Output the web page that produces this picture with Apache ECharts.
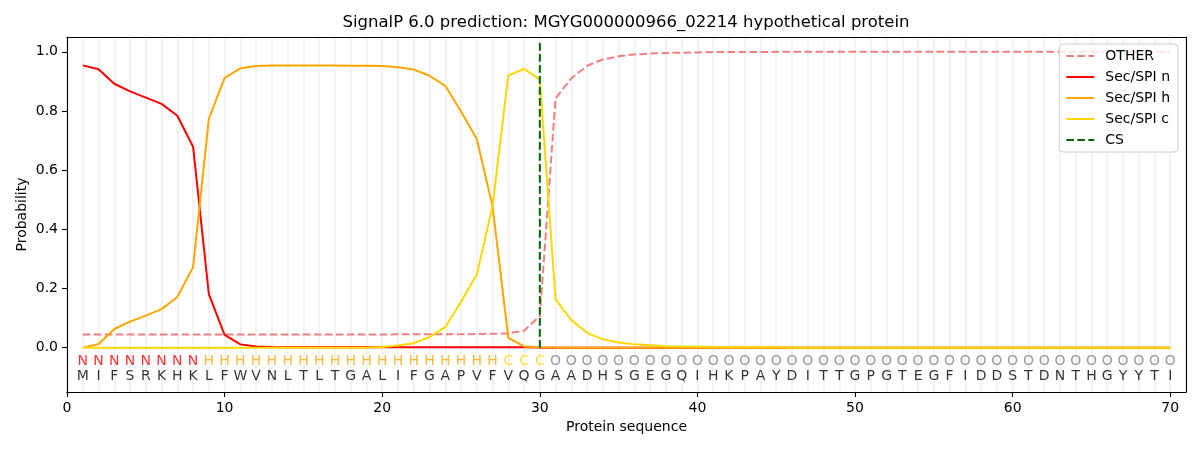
<!DOCTYPE html>
<html><head><meta charset="utf-8">
<script src="https://cdn.jsdelivr.net/npm/echarts@6/dist/echarts.min.js"></script>
<style>html,body{margin:0;padding:0;background:#fff}#c{width:1200px;height:450px}</style>
</head><body><div id="c"></div>
<script>
const titleText = "SignalP 6.0 prediction: MGYG000000966_02214 hypothetical protein";
const sequence = "MIFSRKHKLFWVNLTLTGALIFGAPVFVQGAADHSGEGQIHKPAYDITTGPGTEGFIDDSTDNTHGYYTI".split("");
const regions = ("NNNNNNNN" + "HHHHHHHHHHHHHHHHHHH" + "CCC" + "OOOOOOOOOOOOOOOOOOOOOOOOOOOOOOOOOOOOOOOO").split("");
const other = [0.044,0.044,0.044,0.044,0.044,0.044,0.044,0.044,0.044,0.044,
  0.044,0.044,0.044,0.044,0.044,0.044,0.044,0.044,0.044,0.044,
  0.045,0.045,0.045,0.045,0.045,0.046,0.047,0.048,0.057,0.107,
  0.843,0.910,0.953,0.974,0.985,0.991,0.994,0.996,0.997,0.998,
  0.999,0.999,0.999,0.999,1.0,1.0,1.0,1.0,1.0,1.0,
  1.0,1.0,1.0,1.0,1.0,1.0,1.0,1.0,1.0,1.0,
  1.0,1.0,1.0,1.0,1.0,1.0,1.0,1.0,1.0,1.0];
const secN = [0.954,0.941,0.892,0.866,0.845,0.824,0.784,0.679,0.181,0.043,
  0.011,0.004,0.002,0.001,0.001,0.001,0.001,0.001,0.001,0.001,
  0.001,0.001,0.001,0.001,0.001,0.001,0.001,0.001,0.001,0,
  0,0,0,0,0,0,0,0,0,0, 0,0,0,0,0,0,0,0,0,0,
  0,0,0,0,0,0,0,0,0,0, 0,0,0,0,0,0,0,0,0,0];
const secH = [0,0.012,0.063,0.088,0.108,0.130,0.171,0.272,0.773,0.912,
  0.944,0.952,0.954,0.954,0.954,0.954,0.954,0.953,0.953,0.952,
  0.948,0.940,0.919,0.885,0.798,0.705,0.478,0.033,0.004,0.001,
  0,0,0,0,0,0,0,0,0,0, 0,0,0,0,0,0,0,0,0,0,
  0,0,0,0,0,0,0,0,0,0, 0,0,0,0,0,0,0,0,0,0];
const secC = [0,0,0,0,0,0,0,0,0,0,
  0,0,0,0,0,0,0,0,0,0.002,
  0.007,0.015,0.036,0.069,0.155,0.247,0.478,0.920,0.942,0.906,
  0.163,0.093,0.050,0.028,0.017,0.011,0.008,0.005,0.004,0.003,
  0.002,0.001,0.001,0.001,0.001,0,0,0,0,0,
  0,0,0,0,0,0,0,0,0,0, 0,0,0,0,0,0,0,0,0,0];
const csPos = 30;
const csSpan = [0, 1.035];
const xTicks = [0,10,20,30,40,50,60,70];
const yTicks = [0,0.2,0.4,0.6,0.8,1.0];

const regionColor = {N: "#ff0000", H: "#ffa500", C: "#ffd700", O: "#808080"};
const FONT = "DejaVu Sans";
const pts = arr => arr.map((v, i) => [i + 1, v]);
const blackLine = {show: true, onZero: false, lineStyle: {color: "#000", width: 1.1}};

const chart = echarts.init(document.getElementById("c"), null, {renderer: "canvas"});
chart.setOption({
  animation: false,
  backgroundColor: "#fff",
  textStyle: {fontFamily: FONT},
  graphic: [{
    type: "text", x: 626, y: 14, z: 10,
    style: {text: titleText, font: "16.5px 'DejaVu Sans'", fill: "#000", align: "center", verticalAlign: "top"}
  }],
  grid: {left: 67, right: 14, top: 37, bottom: 58, show: false},
  legend: {
    orient: "vertical", right: 22, top: 44,
    padding: [5, 8, 5, 6], itemGap: 7, itemWidth: 28, itemHeight: 14,
    backgroundColor: "rgba(255,255,255,0.8)", borderColor: "#cccccc", borderWidth: 1, borderRadius: 4,
    textStyle: {fontFamily: FONT, fontSize: 14, color: "#000", padding: [0, 0, 0, 6]},
    itemStyle: {opacity: 0},
    data: ["OTHER", "Sec/SPI n", "Sec/SPI h", "Sec/SPI c", "CS"]
  },
  xAxis: [{
    type: "value", min: 0, max: 71, interval: 10, z: 3,
    name: "Protein sequence", nameLocation: "middle", nameGap: 28, nameMoveOverlap: false,
    nameTextStyle: {fontFamily: FONT, fontSize: 14, color: "#000"},
    axisLine: blackLine,
    axisTick: {show: true, length: 5, customValues: xTicks, lineStyle: {color: "#000", width: 1.1}},
    axisLabel: {customValues: xTicks, fontFamily: FONT, fontSize: 14, color: "#000", margin: 9},
    splitLine: {show: false}
  }, {
    type: "value", min: 0, max: 71, interval: 1, position: "top", z: 1,
    axisLine: blackLine, axisTick: {show: false}, axisLabel: {show: false},
    splitLine: {show: true, lineStyle: {color: "#f3f3f3", width: 2}}
  }],
  yAxis: [{
    type: "value", min: -0.15, max: 1.05, z: 3,
    name: "Probability", nameLocation: "middle", nameGap: 38, nameMoveOverlap: false,
    nameTextStyle: {fontFamily: FONT, fontSize: 14, color: "#000"},
    axisLine: blackLine,
    axisTick: {show: true, length: 5, customValues: yTicks, lineStyle: {color: "#000", width: 1.1}},
    axisLabel: {customValues: yTicks, fontFamily: FONT, fontSize: 14, color: "#000", margin: 9,
      formatter: v => v.toFixed(1)},
    splitLine: {show: false}
  }, {
    type: "value", min: -0.15, max: 1.05, position: "right", z: 3,
    axisLine: blackLine, axisTick: {show: false}, axisLabel: {show: false}, splitLine: {show: false}
  }],
  series: [
    {name: "OTHER", type: "line", data: pts(other), symbol: "none", z: 3,
      lineStyle: {color: "#f08080", width: 2, type: [7.7, 3.3]}, itemStyle: {color: "#f08080"}},
    {name: "Sec/SPI n", type: "line", data: pts(secN), symbol: "none", z: 4,
      lineStyle: {color: "#ff0000", width: 2}, itemStyle: {color: "#ff0000"}},
    {name: "Sec/SPI h", type: "line", data: pts(secH), symbol: "none", z: 5,
      lineStyle: {color: "#ffa500", width: 2}, itemStyle: {color: "#ffa500"}},
    {name: "Sec/SPI c", type: "line", data: pts(secC), symbol: "none", z: 6,
      lineStyle: {color: "#ffd700", width: 2}, itemStyle: {color: "#ffd700"}},
    {name: "CS", type: "line", data: csSpan.map(v => [csPos, v]), symbol: "none", z: 7,
      lineStyle: {color: "#006400", width: 2, type: [7.7, 3.3]}, itemStyle: {color: "#006400"}},
    {name: "regions", type: "scatter", symbolSize: 0, silent: true, z: 8,
      data: regions.map((r, i) => ({value: [i + 1, -0.047], label: {color: regionColor[r]}})),
      label: {show: true, position: "inside", fontFamily: FONT, fontSize: 14,
        formatter: p => regions[p.dataIndex]}},
    {name: "residues", type: "scatter", symbolSize: 0, silent: true, z: 8,
      data: sequence.map((s, i) => [i + 1, -0.098]),
      label: {show: true, position: "inside", fontFamily: FONT, fontSize: 14, color: "#000",
        formatter: p => sequence[p.dataIndex]}}
  ]
});
</script>
</body></html>
